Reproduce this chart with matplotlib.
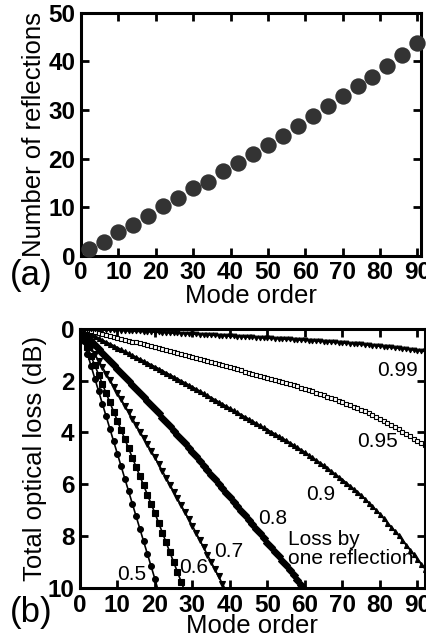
import numpy as np
import matplotlib
matplotlib.use('Agg')
import matplotlib.pyplot as plt

plt.rcParams['font.family'] = ['Liberation Sans', 'DejaVu Sans']

# (a) number of reflections vs mode order
modes_a = [2, 6, 10, 14, 18, 22, 26, 30, 34, 38, 42, 46, 50, 54, 58, 62, 66, 70, 74, 78, 82, 86, 90]
refl_a = [1.4, 2.8, 4.9, 6.4, 8.2, 10.2, 11.9, 13.9, 15.2, 17.4, 19.1, 21.0, 22.9, 24.7, 26.8,
          28.8, 30.8, 32.8, 34.9, 36.9, 39.1, 41.4, 43.8]

# (b) effective reflection count for each mode, modes 1..92
modes_b = list(range(1, 93))
n_eff = [0.16, 0.32, 0.48, 0.64, 0.80, 0.96, 1.12, 1.28, 1.44, 1.60,
         1.76, 1.92, 2.08, 2.24, 2.40, 2.56, 2.72, 2.88, 3.04, 3.20,
         3.37, 3.54, 3.71, 3.88, 4.05, 4.22, 4.39, 4.56, 4.73, 4.90,
         5.08, 5.26, 5.44, 5.62, 5.80, 5.98, 6.16, 6.34, 6.52, 6.70,
         6.88, 7.06, 7.24, 7.42, 7.60, 7.78, 7.96, 8.14, 8.32, 8.50,
         8.68, 8.86, 9.04, 9.22, 9.40, 9.60, 9.80, 10.00, 10.20, 10.40,
         10.62, 10.84, 11.06, 11.28, 11.50, 11.74, 11.98, 12.22, 12.46, 12.70,
         12.96, 13.22, 13.48, 13.74, 14.00, 14.32, 14.64, 14.96, 15.28, 15.60,
         15.96, 16.32, 16.68, 17.04, 17.40, 17.80, 18.20, 18.60, 19.00, 19.40,
         19.80, 20.20]
reflectivity = [0.5, 0.6, 0.7, 0.8, 0.9, 0.95, 0.99]
curve_labels = ['0.5', '0.6', '0.7', '0.8', '0.9', '0.95', '0.99']
label_pos = [(13.7, 9.45), (30.3, 9.2), (39.8, 8.6), (51.4, 7.3), (64.3, 6.4), (79.3, 4.35), (84.7, 1.6)]

# marker style per curve: (marker, size, face)
styles = [('o', 4.2, 'k'), ('s', 4.2, 'k'), ('v', 4.2, 'k'), ('D', 4.3, 'k'),
          ('^', 3.6, 'k'), ('s', 3.4, 'w'), ('v', 3.4, 'k')]

fig = plt.figure(figsize=(4.27, 6.43), dpi=100)


def style_axes(ax):
    for s in ax.spines.values():
        s.set_linewidth(2.2)
    ax.tick_params(direction='in', top=True, right=True, length=6, width=2.0, pad=4)
    for lab in ax.get_xticklabels() + ax.get_yticklabels():
        lab.set_fontsize(17.5)
        lab.set_fontweight('bold')


# ---- panel (a)
ax1 = fig.add_axes([0.190, 0.602, 0.796, 0.378])
ax1.plot(modes_a, refl_a, 'o', color='#333333', markersize=11.8, markeredgewidth=0, clip_on=False, zorder=3)
ax1.set_xlim(0, 91)
ax1.set_ylim(0, 50)
ax1.set_xticks(range(0, 100, 10))
ax1.set_yticks(range(0, 60, 10))
style_axes(ax1)
ax1.set_xlabel('Mode order', fontsize=18.5, labelpad=0)
ax1.set_ylabel('Number of reflections', fontsize=18.5, labelpad=2)
fig.text(0.072, 0.572, '(a)', fontsize=25, ha='center', va='center')

# ---- panel (b)
ax2 = fig.add_axes([0.187, 0.085, 0.808, 0.404])
for R, lab, pos, st in zip(reflectivity, curve_labels, label_pos, styles):
    per_refl = -10 * np.log10(R)  # dB lost at one reflection
    loss = np.array(n_eff) * per_refl
    keep = loss <= 10.2
    x = np.array(modes_b)[keep]
    ax2.plot(x, loss[keep], '-', color='k', lw=1.2)
    ax2.plot(x, loss[keep], st[0], markersize=st[1], markerfacecolor=st[2],
             markeredgecolor='k', markeredgewidth=0.8, lw=0)
    ax2.text(pos[0], pos[1], lab, fontsize=15, ha='center', va='center')

ax2.text(55.6, 8.5, 'Loss by\none reflection', fontsize=15, ha='left', va='center', linespacing=1.0)
ax2.set_xlim(0, 92)
ax2.set_ylim(10, 0)
ax2.set_xticks(range(0, 100, 10))
ax2.set_yticks(range(0, 12, 2))
style_axes(ax2)
ax2.set_xlabel('Mode order', fontsize=18.5, labelpad=-2)
ax2.set_ylabel('Total optical loss (dB)', fontsize=18.5, labelpad=0)
fig.text(0.073, 0.048, '(b)', fontsize=25, ha='center', va='center')

fig.savefig('out.png', dpi=100)
